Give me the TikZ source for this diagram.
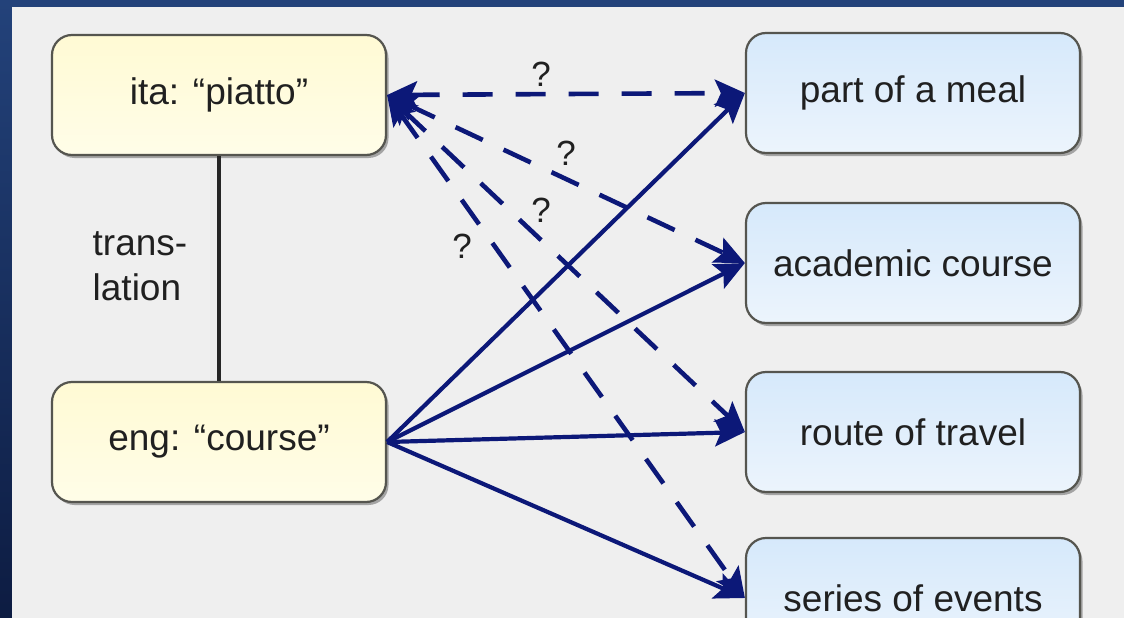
\documentclass[tikz,border=0pt]{standalone}
\usepackage{fontspec}
\setmainfont{Liberation Sans}
\usetikzlibrary{arrows.meta,shadows}
\definecolor{navy}{HTML}{0C1878}
\definecolor{panel}{HTML}{EFEFEF}
\definecolor{bandtop}{HTML}{23427A}
\definecolor{bandbot}{HTML}{0D1C42}
\definecolor{boxline}{HTML}{55554F}
\definecolor{txt}{HTML}{202020}
\tikzset{
  basebox/.style={draw=boxline, line width=2.2pt, rounded corners=20pt,
    minimum width=334pt, minimum height=120pt, inner sep=0pt,
    font=\fontsize{37}{44}\selectfont, text=txt,
    drop shadow={shadow xshift=2.5pt, shadow yshift=-3pt, fill=black!55, opacity=0.6}},
  ybox/.style={basebox, top color={rgb,255:red,255;green,250;blue,212}, bottom color={rgb,255:red,255;green,253;blue,232}},
  bbox/.style={basebox, top color={rgb,255:red,214;green,233;blue,251}, bottom color={rgb,255:red,236;green,244;blue,252}},
  qm/.style={font=\fontsize{35}{40}\selectfont, text=txt, inner sep=0pt},
  tip/.style={Stealth[length=30pt,width=27pt,inset=6pt]},
  sense/.style={draw=navy, line width=4.2pt, -{Stealth[length=30pt,width=27pt,inset=6pt]}},
  guess/.style={draw=navy, line width=4.6pt, dash pattern=on 30pt off 23pt,
    {Stealth[length=30pt,width=27pt,inset=6pt]}-{Stealth[length=30pt,width=27pt,inset=6pt]}},
  link/.style={draw=black!85, line width=3.5pt}
}
\begin{document}
\begin{tikzpicture}[x=1pt,y=-1pt]
\useasboundingbox (0,0) rectangle (1124,618);
\shade[top color=bandtop, bottom color=bandbot] (0,0) rectangle (1124,618);
\fill[panel] (12,7) rectangle (1124,618);

\node[ybox] (ita) at (219,95) {ita: “piatto”};
\node[ybox] (eng) at (219,442) {eng: “course”};
\node[bbox] (meal) at (913,93) {part of a meal};
\node[bbox] (acad) at (913,263) {academic course};
\node[bbox] (route) at (913,432) {route of travel};
\node[bbox] (series) at (913,598) {series of events};

\draw[link] (ita) -- (eng);
\node[font=\fontsize{37}{45}\selectfont, text=txt, align=left, inner sep=0pt] (tl) at (140,266) {trans-\\lation};

\draw[sense] (eng.east) -- (meal.west);
\draw[sense] (eng.east) -- (acad.west);
\draw[sense] (eng.east) -- (route.west);
\draw[sense] (eng.east) -- (series.west);

\draw[guess] (ita.east) -- (meal.west);
\draw[guess] (ita.east) -- (acad.west);
\draw[guess] (ita.east) -- (route.west);
\draw[guess] (ita.east) -- (series.west);

\node[qm] (q1) at (541,74) {?};
\node[qm] (q2) at (566,153) {?};
\node[qm] (q3) at (541,210) {?};
\node[qm] (q4) at (462,246) {?};
\end{tikzpicture}
\end{document}
